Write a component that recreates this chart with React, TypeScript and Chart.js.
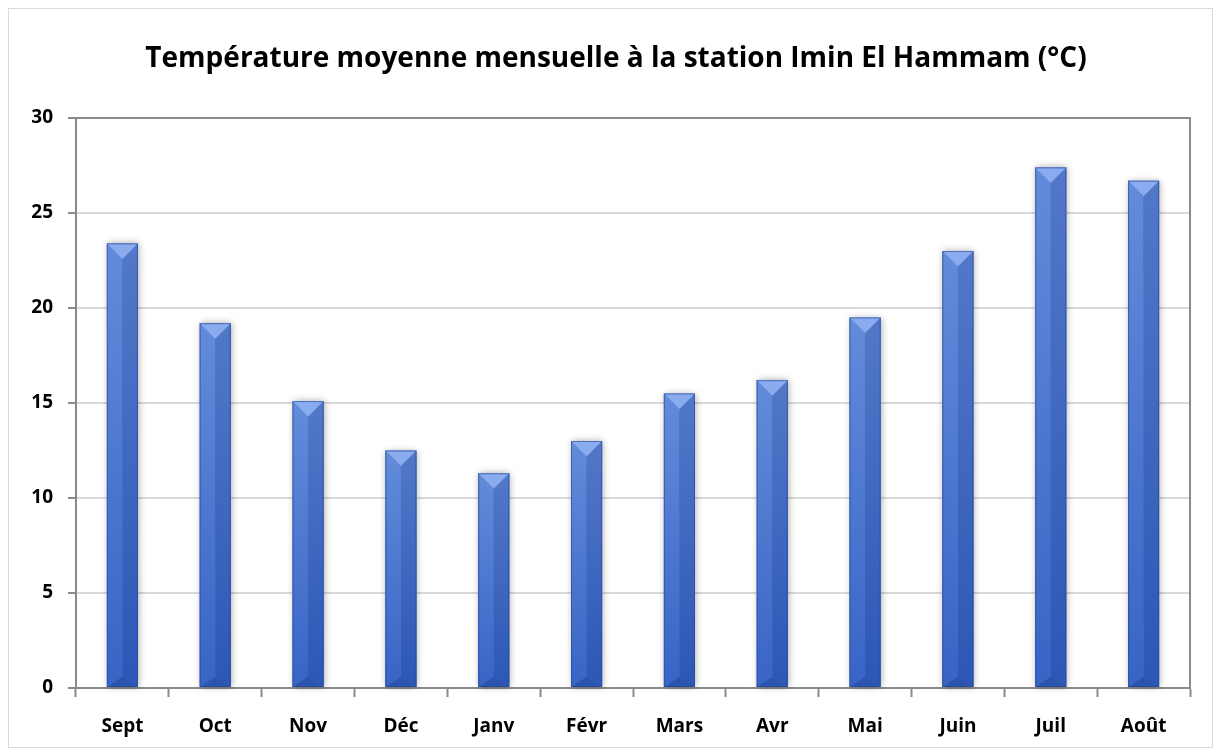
import React, { useEffect, useRef } from "react";
import { Chart, registerables } from "chart.js";

Chart.register(...registerables);

const months = ["Sept", "Oct", "Nov", "Déc", "Janv", "Févr", "Mars", "Avr", "Mai", "Juin", "Juil", "Août"];
const temperatures = [23.4, 19.2, 15.1, 12.5, 11.3, 13.0, 15.5, 16.2, 19.5, 23.0, 27.4, 26.7];
const yTicks = [0, 5, 10, 15, 20, 25, 30];
const titleText = "Température moyenne mensuelle à la station Imin El Hammam (°C)";

const FONT = "'Open Sans', 'Noto Sans', sans-serif";

const bevelBars = {
  id: "bevelBars",
  beforeDatasetsDraw(chart: any) {
    const { ctx, chartArea } = chart;
    ctx.save();
    ctx.strokeStyle = "#8a8a8a";
    ctx.lineWidth = 2;
    ctx.strokeRect(chartArea.left, chartArea.top, chartArea.right - chartArea.left, chartArea.bottom - chartArea.top);
    ctx.restore();
  },
  afterDatasetsDraw(chart: any) {
    const { ctx } = chart;
    const meta = chart.getDatasetMeta(0);
    meta.data.forEach((el: any) => {
      const p = el.getProps(["x", "y", "base", "width"], true);
      const x0 = p.x - p.width / 2;
      const x1 = p.x + p.width / 2;
      const top = p.y;
      const bot = p.base;
      const cx = p.x;
      const h = p.width / 2;
      const hb = p.width / 3;
      ctx.save();
      ctx.shadowColor = "rgba(0,0,0,0.35)";
      ctx.shadowBlur = 7;
      ctx.shadowOffsetX = 1;
      ctx.shadowOffsetY = 0;
      ctx.fillStyle = "#4a70c4";
      ctx.fillRect(x0, top, x1 - x0, bot - top);
      ctx.restore();

      ctx.save();
      let g = ctx.createLinearGradient(0, top, 0, bot);
      g.addColorStop(0, "#628cda");
      g.addColorStop(1, "#3864c6");
      ctx.fillStyle = g;
      ctx.beginPath();
      ctx.moveTo(x0, top);
      ctx.lineTo(cx, top + h);
      ctx.lineTo(cx, bot - hb);
      ctx.lineTo(x0, bot);
      ctx.closePath();
      ctx.fill();
      g = ctx.createLinearGradient(0, top, 0, bot);
      g.addColorStop(0, "#5378c8");
      g.addColorStop(1, "#2c57b5");
      ctx.fillStyle = g;
      ctx.beginPath();
      ctx.moveTo(x1, top);
      ctx.lineTo(cx, top + h);
      ctx.lineTo(cx, bot - hb);
      ctx.lineTo(x1, bot);
      ctx.closePath();
      ctx.fill();
      ctx.fillStyle = "#8aacee";
      ctx.beginPath();
      ctx.moveTo(x0, top);
      ctx.lineTo(x1, top);
      ctx.lineTo(cx, top + h);
      ctx.closePath();
      ctx.fill();
      ctx.fillStyle = "#2a54ae";
      ctx.beginPath();
      ctx.moveTo(x0, bot);
      ctx.lineTo(x1, bot);
      ctx.lineTo(cx, bot - hb);
      ctx.closePath();
      ctx.fill();
      ctx.strokeStyle = "rgba(40,70,150,0.6)";
      ctx.lineWidth = 1;
      ctx.strokeRect(x0 + 0.5, top + 0.5, x1 - x0 - 1, bot - top - 1);
      ctx.restore();
    });
  },
};

export default function App() {
  const ref = useRef<HTMLCanvasElement | null>(null);
  useEffect(() => {
    if (!ref.current) return;
    const chart = new Chart(ref.current, {
      type: "bar",
      data: {
        labels: months,
        datasets: [
          {
            data: temperatures,
            backgroundColor: "rgba(0,0,0,0)",
            borderWidth: 0,
            barPercentage: 0.335,
            categoryPercentage: 1,
          },
        ],
      },
      options: {
        animation: false,
        responsive: true,
        maintainAspectRatio: false,
        layout: { padding: { left: 11, right: 0, top: 0, bottom: 0 } },
        plugins: {
          legend: { display: false },
          tooltip: { enabled: false },
          title: {
            display: true,
            text: titleText,
            color: "#000",
            font: { family: FONT, size: 28, weight: "bold", lineHeight: 1.2 },
            padding: { top: 33.5, bottom: 41.9 },
          },
        },
        scales: {
          x: {
            grid: {
              display: true,
              drawOnChartArea: false,
              drawTicks: true,
              tickLength: 9,
              tickColor: "#8a8a8a",
              tickWidth: 2,
              offset: true,
            },
            border: { display: true, color: "#8a8a8a", width: 2 },
            ticks: {
              color: "#000",
              font: { family: FONT, size: 19, weight: "bold" },
              padding: 18,
            },
            afterFit: (s: any) => {
              s.height = 59;
            },
          },
          y: {
            min: 0,
            max: 30,
            afterBuildTicks: (s: any) => {
              s.ticks = yTicks.map((v) => ({ value: v }));
            },
            grid: {
              color: "#d9d9d9",
              lineWidth: 2,
              tickLength: 8,
              tickColor: "#8a8a8a",
              tickWidth: 2,
            },
            border: { display: true, color: "#8a8a8a", width: 2 },
            ticks: {
              color: "#000",
              font: { family: FONT, size: 19, weight: "bold" },
              padding: 15,
            },
            afterFit: (s: any) => {
              s.width = 56;
            },
          },
          ySpacer: {
            position: "right",
            display: true,
            min: 0,
            max: 30,
            grid: { display: false, drawTicks: false },
            border: { display: false },
            ticks: { display: false },
            afterFit: (s: any) => {
              s.width = 22;
            },
          },
        },
      },
      plugins: [bevelBars],
    });
    return () => chart.destroy();
  }, []);
  return (
    <div
      style={{
        width: 1205,
        height: 740,
        border: "1px solid #d9d9d9",
        boxSizing: "border-box",
        background: "#fff",
        position: "relative",
      }}
    >
      <canvas ref={ref} />
    </div>
  );
}
